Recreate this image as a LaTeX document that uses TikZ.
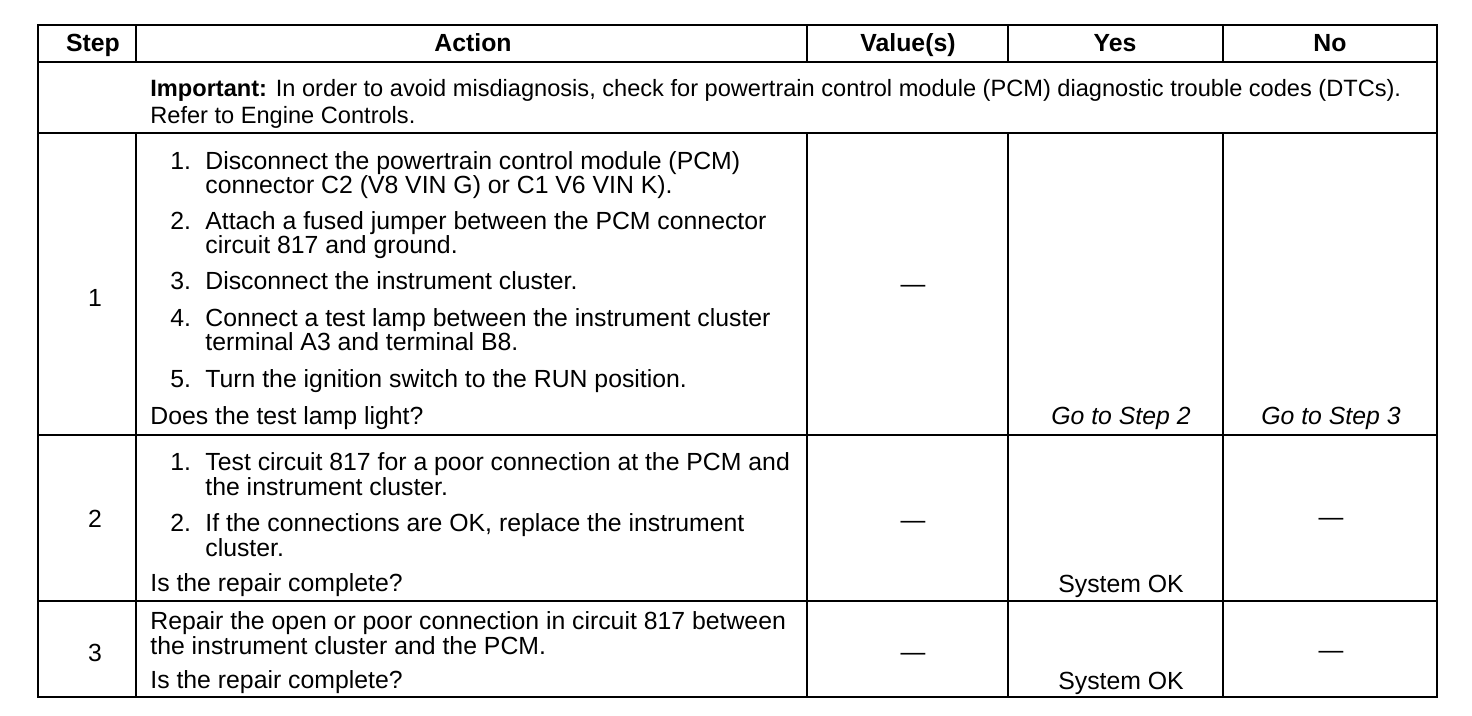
\documentclass[tikz,border=0pt]{standalone}
\usepackage{fontspec}
\setmainfont{Liberation Sans}

\begin{document}
\begin{tikzpicture}[x=0.5pt,y=-0.5pt,
  txt/.style={inner sep=0pt,anchor=base west,font=\fontsize{12.4}{14}\selectfont},
  mid/.style={inner sep=0pt,anchor=base,font=\fontsize{12.4}{14}\selectfont},
  head/.style={mid,font=\fontsize{12.4}{14}\selectfont\bfseries},
  goto/.style={mid,font=\fontsize{12.4}{14}\selectfont\itshape},
  note/.style={txt,font=\fontsize{11.8}{14}\selectfont},
  rule/.style={line width=1.4pt}]
\useasboundingbox (0,0) rectangle (1472,716);
% frame and rules
\draw[rule] (38,25) rectangle (1437,697);
\foreach \y in {62,133,435,601}
  \draw[rule] (38,\y) -- (1437,\y);
\foreach \x in {136,807,1008,1223} {
  \draw[rule] (\x,25) -- (\x,62);
  \draw[rule] (\x,133) -- (\x,697);
}
% header
\node[head] (hstep) at (93,52) {Step};
\node[head] (hact) at (473,52) {Action};
\node[head] (hval) at (908,52) {Value(s)};
\node[head] (hyes) at (1115,52) {Yes};
\node[head] (hno) at (1330,52) {No};
\node[note] (imp1) at (150,97) {\textbf{Important:} In order to avoid misdiagnosis, check for powertrain control module (PCM) diagnostic trouble codes (DTCs).};
\node[note] (imp2) at (150,124) {Refer to Engine Controls.};
% step 1
\node[mid] (s1) at (95,307) {1};
\node[txt] (a1n1) at (170,170) {1.};
\node[txt] (a1l1) at (205,170) {Disconnect the powertrain control module (PCM)};
\node[txt] (a1l2) at (205,194) {connector C2 (V8 VIN G) or C1 V6 VIN K).};
\node[txt] (a1n2) at (170,230) {2.};
\node[txt] (a1l3) at (205,230) {Attach a fused jumper between the PCM connector};
\node[txt] (a1l4) at (205,254) {circuit 817 and ground.};
\node[txt] (a1n3) at (170,290) {3.};
\node[txt] (a1l5) at (205,290) {Disconnect the instrument cluster.};
\node[txt] (a1n4) at (170,327) {4.};
\node[txt] (a1l6) at (205,327) {Connect a test lamp between the instrument cluster};
\node[txt] (a1l7) at (205,351) {terminal A3 and terminal B8.};
\node[txt] (a1n5) at (170,388) {5.};
\node[txt] (a1l8) at (205,388) {Turn the ignition switch to the RUN position.};
\node[txt] (a1q) at (150,425) {Does the test lamp light?};
\node[mid] (v1) at (913,293) {—};
\node[goto] (y1) at (1121,425) {Go to Step 2};
\node[goto] (n1) at (1331,425) {Go to Step 3};
% step 2
\node[mid] (s2) at (95,527) {2};
\node[txt] (a2n1) at (170,470) {1.};
\node[txt] (a2l1) at (205,470) {Test circuit 817 for a poor connection at the PCM and};
\node[txt] (a2l2) at (205,495) {the instrument cluster.};
\node[txt] (a2n2) at (170,531) {2.};
\node[txt] (a2l3) at (205,531) {If the connections are OK, replace the instrument};
\node[txt] (a2l4) at (205,556) {cluster.};
\node[txt] (a2q) at (150,591) {Is the repair complete?};
\node[mid] (v2) at (913,528) {—};
\node[mid] (y2) at (1121,592) {System OK};
\node[mid] (n2) at (1331,525) {—};
% step 3
\node[mid] (s3) at (95,661) {3};
\node[txt] (a3l1) at (150,629) {Repair the open or poor connection in circuit 817 between};
\node[txt] (a3l2) at (150,654) {the instrument cluster and the PCM.};
\node[txt] (a3q) at (150,688) {Is the repair complete?};
\node[mid] (v3) at (913,660) {—};
\node[mid] (y3) at (1121,689) {System OK};
\node[mid] (n3) at (1331,658) {—};
\end{tikzpicture}
\end{document}
